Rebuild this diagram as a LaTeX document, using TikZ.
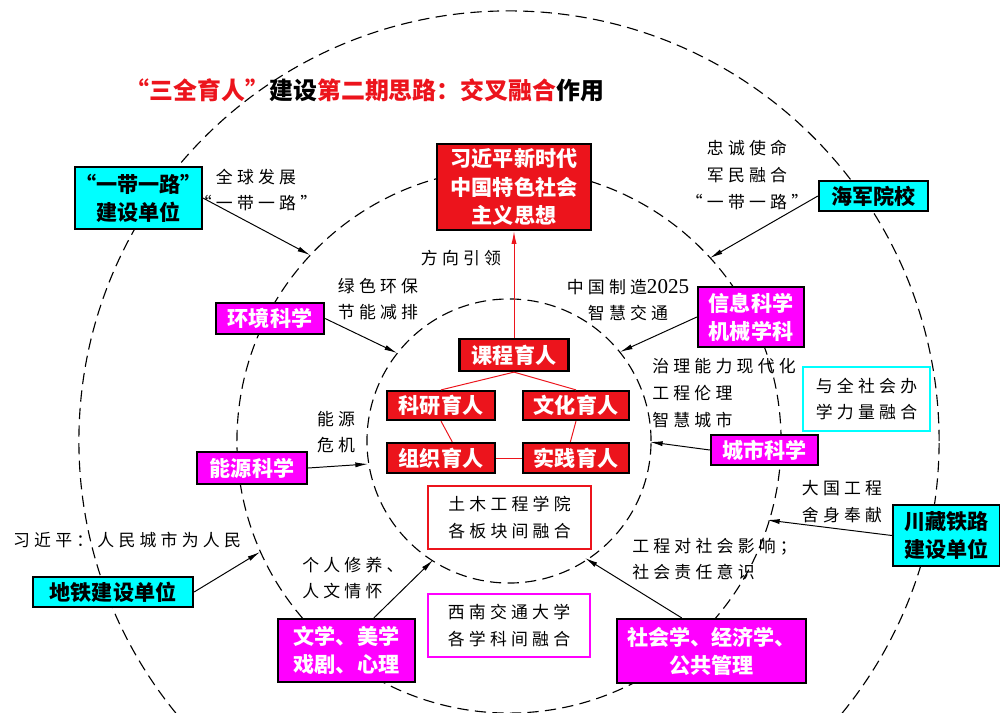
\documentclass[tikz,border=0pt]{standalone}
\usepackage{fontspec}
\setmainfont{Noto Sans CJK SC}
\newfontfamily\labfont{Noto Sans CJK SC}[LetterSpace=25]
\newfontfamily\numfont{Liberation Serif}
\usetikzlibrary{positioning,calc,arrows.meta}
\definecolor{boxred}{RGB}{236,20,28}
\definecolor{boxmag}{RGB}{255,0,255}
\definecolor{boxcyan}{RGB}{0,255,255}
\newcommand*{\boxtxt}{\fontsize{15}{20}\selectfont\bfseries}
\newcommand*{\labtxt}{\labfont\fontsize{12}{19}\selectfont}

\begin{document}
\begin{tikzpicture}[x=0.025cm,y=-0.025cm,
  ring/.style={draw,dash pattern=on 8pt off 4.5pt,line width=0.8pt},
  boxsize/.style 2 args={minimum width=#1*0.025cm,minimum height=#2*0.025cm},
  basebox/.style={draw=black,line width=1.6pt,inner sep=0pt,align=center,font=\boxtxt},
  redbox/.style={basebox,fill=boxred,text=white},
  magbox/.style={basebox,fill=boxmag,text=white},
  cyanbox/.style={basebox,fill=boxcyan,text=black},
  thinbox/.style={draw=#1,line width=1pt,inner sep=0pt,align=center,font=\labtxt},
  lab/.style={align=center,font=\labtxt,inner sep=0pt},
  link/.style={-{Latex[length=9pt,width=3.6pt]},line width=0.7pt},
  redlink/.style={draw=boxred,line width=0.7pt}]
\clip (0,0) rectangle (1000,712);
% Centre of the three rings
\coordinate (O) at (509,441);
\draw[ring] (O) circle[radius=3.55cm];
\draw[ring] (O) circle[radius=6.8cm];
\draw[ring] (O) circle[radius=10.75cm];
% Title
\node[inner sep=0pt,font=\fontsize{17}{20}\selectfont\bfseries] (title) at (365,90)
  {{\color{boxred}“三全育人”}建设{\color{boxred}第二期思路：交叉融合}作用};
% Top goal
\node[redbox,boxsize={154}{86}] (xi) at (514,187) {习近平新时代\\中国特色社会\\主义思想};
% The five kinds of education in the middle
\node[redbox,boxsize={109}{32}] (course) at (514,355) {课程育人};
\node[redbox,boxsize={108}{29}] (res) at (441,405.5) {科研育人};
\node[redbox,boxsize={106}{29}] (cul) at (576,405.5) {文化育人};
\node[redbox,boxsize={108}{30}] (org) at (441,458) {组织育人};
\node[redbox,boxsize={106}{30}] (pra) at (576,458) {实践育人};
\draw[redlink] (course.south) -- (res.north);
\draw[redlink] (course.south) -- (cul.north);
\draw[redlink] (res.south) -- ([xshift=8pt]org.north);
\draw[redlink] (cul.south) -- ([xshift=-4pt]pra.north);
\draw[redlink] (org.east) -- (pra.west);
\draw[redlink,-{Latex[length=9pt,width=3.6pt]}] (course.north) -- (xi.south);
\node[lab] (guide) at (461,258) {方向引领};
% Framed notes
\node[thinbox=boxred,boxsize={163}{63}] (civil) at (509.5,517.5) {土木工程学院\\各板块间融合};
\node[thinbox=boxmag,boxsize={162}{63}] (swjtu) at (509,625.5) {西南交通大学\\各学科间融合};
\node[thinbox=boxcyan,boxsize={127}{64}] (soc) at (866.5,399) {与全社会办\\学力量融合};
% Disciplines on the middle ring
\node[magbox,boxsize={108}{31}] (env) at (270,318.5) {环境科学};
\node[magbox,boxsize={110}{32}] (energy) at (252,468) {能源科学};
\node[magbox,boxsize={106}{60}] (info) at (751,317) {信息科学\\机械学科};
\node[magbox,boxsize={107}{30}] (city) at (764.5,450) {城市科学};
\node[magbox,boxsize={189}{64}] (socsci) at (711.5,651) {社会学、经济学、\\公共管理};
\node[magbox,boxsize={137}{63}] (lit) at (346.5,650.5) {文学、美学\\戏剧、心理};
% Builders on the outer ring
\node[cyanbox,boxsize={123}{62}] (ydyl) at (138.5,198) {“一带一路”\\建设单位};
\node[cyanbox,boxsize={109}{30}] (navy) at (873.5,196) {海军院校};
\node[cyanbox,boxsize={107}{61}] (tibet) at (946.5,535.5) {川藏铁路\\建设单位};
\node[cyanbox,boxsize={160}{30}] (metro) at (113,592) {地铁建设单位};
% Arrow tips on the rings
\coordinate (tipYdyl) at (310,255);
\coordinate (tipNavy) at (710,258);
\coordinate (tipTibet) at (767,520);
\coordinate (tipMetro) at (260,552);
\coordinate (tipEnv) at (397,353);
\coordinate (tipEnergy) at (368,464);
\coordinate (tipInfo) at (620,352);
\coordinate (tipCity) at (650,442);
\coordinate (tipSoc) at (585,558);
\coordinate (tipLit) at (433,560);
% Arrows into the rings
\draw[link] (ydyl.east) -- (tipYdyl);
\draw[link] (navy.west) -- (tipNavy);
\draw[link] (tibet.west) -- (tipTibet);
\draw[link] (metro.east) -- (tipMetro);
\draw[link] (env.east) -- (tipEnv);
\draw[link] (energy.east) -- (tipEnergy);
\draw[link] (info.west) -- (tipInfo);
\draw[link] (city.west) -- (tipCity);
\draw[link] (socsci.132) -- (tipSoc);
\draw[link] (lit.50) -- (tipLit);
% Labels on the arrows
\node[lab] (lYdyl) at (256,190) {全球发展\\“一带一路”};
\node[lab] (lNavy) at (747,175) {忠诚使命\\军民融合\\“一带一路”};
\node[lab] (lTibet) at (842,502) {大国工程\\舍身奉献};
\node[lab] (lMetro) at (127,540) {习近平：人民城市为人民};
\node[lab] (lEnv) at (378,299) {绿色环保\\节能减排};
\node[lab] (lEnergy) at (336,432) {能源\\危机};
\node[lab] (lInfo) at (628,300) {中国制造{\numfont\fontsize{15}{19}\selectfont 2025}\\智慧交通};
\node[lab,align=left,anchor=west] (lCity) at (652,393) {治理能力现代化\\工程伦理\\智慧城市};
\node[lab,align=left,anchor=west] (lSoc) at (632,559) {工程对社会影响；\\社会责任意识};
\node[lab,align=left,anchor=west] (lLit) at (302,578) {个人修养、\\人文情怀};
\end{tikzpicture}
\end{document}
